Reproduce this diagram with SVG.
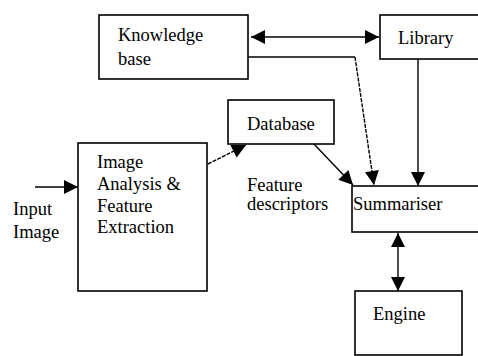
<svg xmlns="http://www.w3.org/2000/svg" width="478" height="356" viewBox="0 0 478 356">
<style>
.box{fill:#fff;stroke:#000;stroke-width:1.6}
.c{fill:none;stroke:#000;stroke-width:1.4}
.d{stroke-dasharray:4 1.2}
</style>
<defs>
<marker id="ah" markerUnits="userSpaceOnUse" markerWidth="16" markerHeight="16" viewBox="0 0 16 16" refX="15" refY="8" orient="auto-start-reverse">
<path d="M1,1 L15,8 L1,15 Z" fill="#000"/>
</marker>
</defs>
<rect width="478" height="356" fill="#fff"/>
<g id="connectors">
<path class="c" d="M35,187 L78,187" marker-end="url(#ah)"/>
<path class="c" d="M251,37 L379,37" marker-start="url(#ah)" marker-end="url(#ah)"/>
<path class="c" d="M248,57 L355,57"/>
<path class="c d" d="M355,57 L374,185" marker-end="url(#ah)"/>
<path class="c" d="M418,59 L418,186" marker-end="url(#ah)"/>
<path class="c" d="M313,143 L353,185" marker-end="url(#ah)"/>
<path class="c d" d="M208,164 L246,145" marker-end="url(#ah)"/>
<path class="c" d="M398,233 L398,291" marker-start="url(#ah)" marker-end="url(#ah)"/>
</g>
<g id="knowledge-base">
<rect class="box" x="99" y="15" width="149" height="64"/>
<text x="118" y="41" font-family="Liberation Serif" font-size="18.5">Knowledge</text>
<text x="118" y="65" font-family="Liberation Serif" font-size="18.5">base</text>
</g>
<g id="library">
<rect class="box" x="380" y="15" width="110" height="44"/>
<text x="398" y="44" font-family="Liberation Serif" font-size="18.5">Library</text>
</g>
<g id="database">
<rect class="box" x="228" y="100" width="106" height="44"/>
<text x="247" y="130" font-family="Liberation Serif" font-size="18.5">Database</text>
</g>
<g id="image-analysis">
<rect class="box" x="78" y="143" width="129" height="148"/>
<text x="97" y="168" font-family="Liberation Serif" font-size="18.5">Image</text>
<text x="97" y="190" font-family="Liberation Serif" font-size="18.5">Analysis &amp;</text>
<text x="97" y="212" font-family="Liberation Serif" font-size="18.5">Feature</text>
<text x="97" y="233" font-family="Liberation Serif" font-size="18.5">Extraction</text>
</g>
<g id="input-label">
<text x="13" y="215" font-family="Liberation Serif" font-size="18.5">Input</text>
<text x="13" y="238" font-family="Liberation Serif" font-size="18.5">Image</text>
</g>
<g id="feature-label">
<text x="247" y="191" font-family="Liberation Serif" font-size="18.5">Feature</text>
<text x="247" y="210" font-family="Liberation Serif" font-size="18.5">descriptors</text>
</g>
<g id="summariser">
<rect class="box" x="352" y="186" width="140" height="46"/>
<text x="353" y="210" font-family="Liberation Serif" font-size="18.5">Summariser</text>
</g>
<g id="engine">
<rect class="box" x="355" y="291" width="107" height="64"/>
<text x="373" y="320" font-family="Liberation Serif" font-size="18.5">Engine</text>
</g>
</svg>
